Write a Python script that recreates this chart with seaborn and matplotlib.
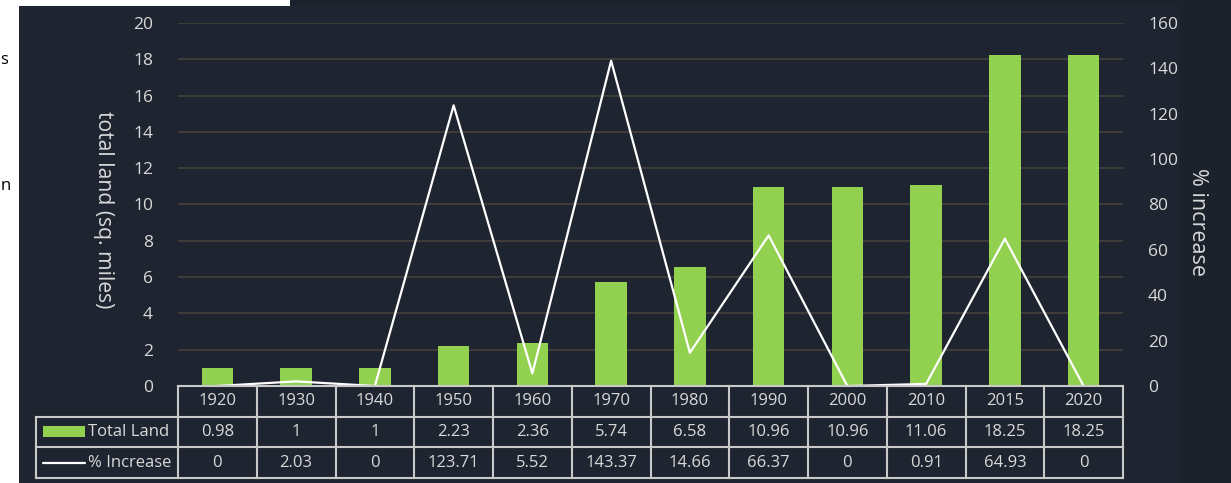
import numpy as np
import pandas as pd
import matplotlib
matplotlib.use("Agg")
import matplotlib.pyplot as plt
from matplotlib.patches import Rectangle
import seaborn as sns

# ---- data ----
years = ["1920", "1930", "1940", "1950", "1960", "1970", "1980", "1990", "2000", "2010", "2015", "2020"]
total_land = [0.98, 1, 1, 2.23, 2.36, 5.74, 6.58, 10.96, 10.96, 11.06, 18.25, 18.25]
pct_increase = [0, 2.03, 0, 123.71, 5.52, 143.37, 14.66, 66.37, 0, 0.91, 64.93, 0]
left_ticks = [0, 2, 4, 6, 8, 10, 12, 14, 16, 18, 20]
right_ticks = [0, 20, 40, 60, 80, 100, 120, 140, 160]
series_names = ["Total Land", "% Increase"]

sns.set_theme(style="dark")
plt.rcParams["font.family"] = ["Open Sans", "DejaVu Sans"]

W, H = 1231, 483
BG = "#1f2530"
TXT = "#d9d9d9"
GREEN = "#92d050"
GRID = "#45403b"
TLINE = "#c9c9c9"

fig = plt.figure(figsize=(W / 100, H / 100), dpi=100)
fig.patch.set_facecolor("white")

# background panels
fig.patches.append(Rectangle((19 / W, 0), 1 - 19 / W, 1 - 6 / H, transform=fig.transFigure,
                             facecolor=BG, edgecolor="none", zorder=-10))
fig.patches.append(Rectangle((1180 / W, 0), 1 - 1180 / W, 1 - 6 / H, transform=fig.transFigure,
                             facecolor="#1b222b", edgecolor="none", zorder=-9))
fig.patches.append(Rectangle((290 / W, 1 - 6 / H), 1 - 290 / W, 6 / H, transform=fig.transFigure,
                             facecolor="#1b222b", edgecolor="none", zorder=-9))
fig.text(0.5 / W, 1 - 60 / H, "s", ha="left", va="center", color="black", fontsize=12)
fig.text(0.5 / W, 1 - 186 / H, "n", ha="left", va="center", color="black", fontsize=12)

L, R, T, B = 178, 1123, 23, 386
ax = fig.add_axes([L / W, 1 - B / H, (R - L) / W, (B - T) / H])
ax.set_facecolor("none")

df = pd.DataFrame({"year": years, "land": total_land, "pct": pct_increase,
                   "pos": np.arange(len(years))})

sns.barplot(data=df, x="year", y="land", color=GREEN, width=0.4, saturation=1,
            ax=ax, zorder=3, edgecolor="none")
ax.set_xlim(-0.5, len(years) - 0.5)
ax.set_ylim(0, 20)
ax.set_yticks(left_ticks)
ax.set_yticklabels([str(t) for t in left_ticks])
ax.tick_params(axis="y", length=0, pad=18, labelsize=12.5, labelcolor=TXT)
ax.tick_params(axis="x", length=0, labelbottom=False)
ax.set_xlabel("")
ax.grid(axis="y", color=GRID, linewidth=1.2, zorder=0)
ax.grid(axis="x", visible=False)
ax.set_axisbelow(True)
for s in ax.spines.values():
    s.set_visible(False)
ax.set_ylabel("total land (sq. miles)", rotation=270, color=TXT, fontsize=15.2, va="center", ha="center")
ax.yaxis.set_label_coords((103 - L) / (R - L), (B - 209.5) / (B - T))

ax2 = ax.twinx()
sns.lineplot(data=df, x="pos", y="pct", color="white", linewidth=1.6, ax=ax2, zorder=5)
for ln in ax2.lines:
    ln.set_clip_on(False)
ax2.set_xlim(-0.5, len(years) - 0.5)
ax2.set_ylim(0, 160)
ax2.set_yticks(right_ticks)
ax2.set_yticklabels([str(t) for t in right_ticks])
ax2.tick_params(axis="y", length=0, pad=18, labelsize=12.5, labelcolor=TXT)
ax2.tick_params(axis="x", length=0, labelbottom=False)
ax2.set_xlabel("")
ax2.grid(False)
for s in ax2.spines.values():
    s.set_visible(False)
ax2.set_ylabel("% increase", rotation=270, color=TXT, fontsize=15.5, va="center", ha="center")
ax2.yaxis.set_label_coords((1197 - L) / (R - L), (B - 221.5) / (B - T))

# ---- data table ----
TB = 478
tab = fig.add_axes([L / W, 1 - TB / H, (R - L) / W, (TB - B) / H])
tab.set_facecolor("none")
tab.set_xlim(-0.5, len(years) - 0.5)
tab.set_ylim(0, 3)
tab.axis("off")
colpx = (R - L) / len(years)
rowpx = (TB - B) / 3
xL = -0.5 - (L - 36) / colpx
n = len(years)
lkw = dict(color=TLINE, linewidth=1.5, clip_on=False, solid_capstyle="projecting")
tab.plot([-0.5, n - 0.5], [3, 3], **lkw)
for yv in [2, 1, 0]:
    tab.plot([xL, n - 0.5], [yv, yv], **lkw)
for k in range(n + 1):
    tab.plot([-0.5 + k, -0.5 + k], [0, 3], **lkw)
tab.plot([xL, xL], [0, 2], **lkw)

fs = 12
for i, y in enumerate(years):
    tab.text(i, 2.5, y, ha="center", va="center", color=TXT, fontsize=fs)
    tab.text(i, 1.5, f"{total_land[i]:g}", ha="center", va="center", color=TXT, fontsize=fs)
    tab.text(i, 0.5, f"{pct_increase[i]:g}", ha="center", va="center", color=TXT, fontsize=fs)

# legend keys in the row-label column
kx0 = xL + 7 / colpx
kw = 42 / colpx
tab.add_patch(Rectangle((kx0, 3 - (437 - B) / rowpx), kw, 11 / rowpx,
                        facecolor=GREEN, edgecolor="none", clip_on=False))
tab.plot([kx0, kx0 + kw], [0.5, 0.5], color="white", linewidth=1.6, clip_on=False)
tab.text(xL + 52 / colpx, 1.5, series_names[0], ha="left", va="center", color=TXT, fontsize=fs)
tab.text(xL + 52 / colpx, 0.5, series_names[1], ha="left", va="center", color=TXT, fontsize=fs)

fig.savefig("out.png", dpi=100, facecolor=fig.get_facecolor())
